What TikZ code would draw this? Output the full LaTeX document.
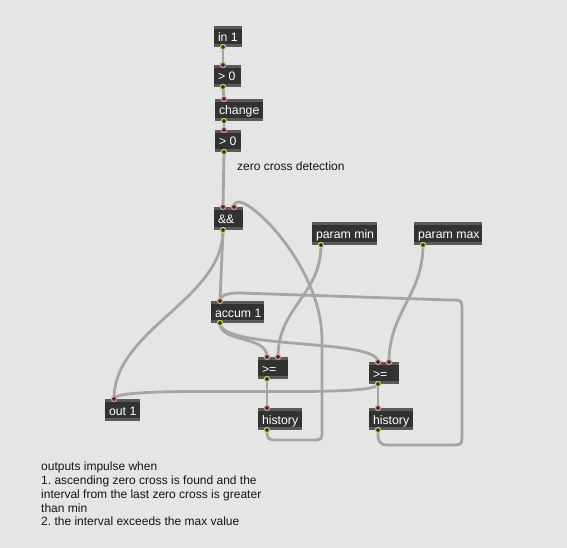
\documentclass[tikz,border=0pt]{standalone}
\usepackage{fontspec}
\setmainfont{Liberation Sans}
\frenchspacing
\definecolor{bg}{RGB}{229,229,229}
\definecolor{boxbody}{RGB}{50,50,50}
\definecolor{boxstrip}{RGB}{90,90,90}
\definecolor{cable}{RGB}{165,165,165}
\definecolor{inring}{RGB}{232,150,135}
\definecolor{outring}{RGB}{206,206,92}
\definecolor{txt}{RGB}{20,20,20}
\newcommand\mxtxt[2]{\makebox[#1][l]{#2}}
\begin{document}
\begin{tikzpicture}[x=1pt,y=-1pt,
  maxobj/.style={fill=boxbody, anchor=north west, inner xsep=4pt, inner ysep=0pt,
    outer sep=0pt, text=white, text height=11pt, text depth=1pt,
    font=\fontsize{12.3}{14}\selectfont,
    path picture={
      \fill[boxstrip] (path picture bounding box.north west) rectangle ([yshift=-3pt]path picture bounding box.north east);
      \fill[boxstrip] (path picture bounding box.south west) rectangle ([yshift=3pt]path picture bounding box.south east);}},
  comment/.style={text=txt, inner sep=0pt, font=\fontsize{12}{13.7}\selectfont},
  cord/.style={draw=cable, line width=2.8pt, line cap=round},
  inport/.style={draw=inring, fill=boxbody, line width=1.1pt},
  outport/.style={draw=outring, fill=boxbody, line width=1.1pt}]
\useasboundingbox (0,0) rectangle (567,548);
\fill[bg] (0,0) rectangle (567,548);

% objects
\node[maxobj, minimum height=21pt] (in1) at (214,26) {\mxtxt{20pt}{in 1}};
\node[maxobj, minimum height=22pt] (gta) at (214,65) {\mxtxt{19pt}{> 0}};
\node[maxobj, minimum height=22pt] (chg) at (215,99) {\mxtxt{40pt}{change}};
\node[maxobj, minimum height=22pt] (gtb) at (215,130) {\mxtxt{18pt}{> 0}};
\node[maxobj, minimum height=23pt] (and) at (214,207) {\mxtxt{21pt}{\&\&}};
\node[maxobj, minimum height=23pt] (pmin) at (312,222) {\mxtxt{57pt}{param min}};
\node[maxobj, minimum height=23pt] (pmax) at (414,222) {\mxtxt{60pt}{param max}};
\node[maxobj, minimum height=22pt] (acc) at (211,301) {\mxtxt{45pt}{accum 1}};
\node[maxobj, minimum height=22pt] (gea) at (258,357) {\mxtxt{22pt}{>=}};
\node[maxobj, minimum height=22pt] (geb) at (369,362) {\mxtxt{22pt}{>=}};
\node[maxobj, minimum height=22pt] (out1) at (105,399) {\mxtxt{27pt}{out 1}};
\node[maxobj, minimum height=22pt] (hista) at (258,408) {\mxtxt{36pt}{history}};
\node[maxobj, minimum height=22pt] (histb) at (369,408) {\mxtxt{36pt}{history}};

\node[comment, anchor=base west] (zc) at (237,171) {zero cross detection};
\node[comment, anchor=north west, align=left] (note) at (41,462)
  {outputs impulse when\\1. ascending zero cross is found and the\\interval from the last zero cross is greater\\than min\\2. the interval exceeds the max value};

% ports
\coordinate (in1-o) at ([xshift=9pt]in1.south west);
\coordinate (gta-i) at ([xshift=9pt]gta.north west);
\coordinate (gta-o) at ([xshift=9pt]gta.south west);
\coordinate (chg-i) at ([xshift=9pt]chg.north west);
\coordinate (chg-o) at ([xshift=9pt]chg.south west);
\coordinate (gtb-i) at ([xshift=9pt]gtb.north west);
\coordinate (gtb-o) at ([xshift=9pt]gtb.south west);
\coordinate (and-i0) at ([xshift=9pt]and.north west);
\coordinate (and-i1) at ([xshift=20pt]and.north west);
\coordinate (and-o) at ([xshift=9pt]and.south west);
\coordinate (pmin-o) at ([xshift=9pt]pmin.south west);
\coordinate (pmax-o) at ([xshift=9pt]pmax.south west);
\coordinate (acc-i) at ([xshift=9pt]acc.north west);
\coordinate (acc-o) at ([xshift=9pt]acc.south west);
\coordinate (gea-i0) at ([xshift=9pt]gea.north west);
\coordinate (gea-i1) at ([xshift=20pt]gea.north west);
\coordinate (gea-o) at ([xshift=9pt]gea.south west);
\coordinate (geb-i0) at ([xshift=9pt]geb.north west);
\coordinate (geb-i1) at ([xshift=20pt]geb.north west);
\coordinate (geb-o) at ([xshift=9pt]geb.south west);
\coordinate (out1-i) at ([xshift=9pt]out1.north west);
\coordinate (hista-i) at ([xshift=9pt]hista.north west);
\coordinate (hista-o) at ([xshift=9pt]hista.south west);
\coordinate (histb-i) at ([xshift=9pt]histb.north west);
\coordinate (histb-o) at ([xshift=9pt]histb.south west);

% cords
\draw[cord] (in1-o) -- (gta-i);
\draw[cord] (gta-o) -- (chg-i);
\draw[cord] (chg-o) -- (gtb-i);
\draw[cord] (gtb-o) -- (and-i0);
\draw[cord] (and-o) -- (acc-i);
\draw[cord] (and-o) .. controls +(0,70) and +(0,-70) .. (out1-i);
\draw[cord] (hista-o) .. controls +(0,9) and +(-9,0) .. (277,440) -- (312,440)
  .. controls +(10,0) and +(0,10) .. (322,430) -- (322,340)
  .. controls +(0,-80) and +(0,-26) .. (and-i1);
\draw[cord] (acc-o) .. controls +(0,20) and +(0,-22) .. (gea-i0);
\draw[cord] (acc-o) .. controls +(0,27) and +(0,-24) .. (geb-i0);
\draw[cord] (pmin-o) .. controls +(0,50) and +(0,-50) .. (gea-i1);
\draw[cord] (pmax-o) .. controls +(0,50) and +(0,-50) .. (geb-i1);
\draw[cord] (gea-o) -- (hista-i);
\draw[cord] (geb-o) -- (histb-i);
\draw[cord] (geb-o) .. controls +(0,16) and +(0,-16) .. (out1-i);
\draw[cord] (histb-o) .. controls +(0,10) and +(-10,0) .. (388,445) -- (450,445)
  .. controls +(12,0) and +(0,12) .. (462,433) -- (462,312)
  .. controls +(0,-12) and +(12,0) .. (450,300) -- (240,293)
  .. controls +(-12,0) and +(0,-6) .. (acc-i);

% port circles
\foreach \p in {gta-i,chg-i,gtb-i,and-i0,and-i1,acc-i,gea-i0,gea-i1,geb-i0,geb-i1,out1-i,hista-i,histb-i}
  \draw[inport] (\p) circle (2.6pt);
\foreach \p in {in1-o,gta-o,chg-o,gtb-o,and-o,pmin-o,pmax-o,acc-o,gea-o,geb-o,hista-o,histb-o}
  \draw[outport] (\p) circle (2.6pt);
\end{tikzpicture}
\end{document}
